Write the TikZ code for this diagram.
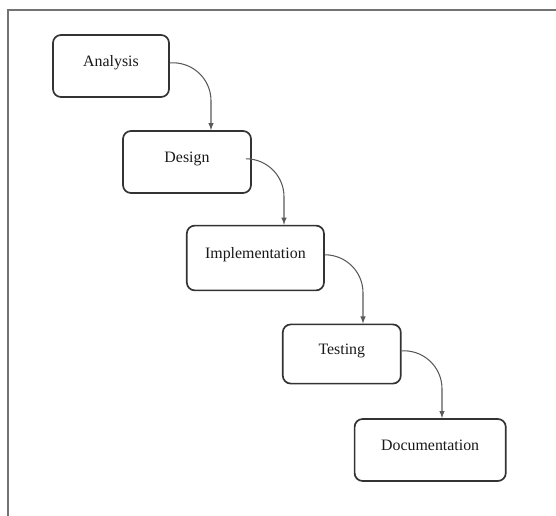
\documentclass[tikz,border=0pt]{standalone}
\usepackage{fontspec}
\setmainfont{Liberation Serif}
\usetikzlibrary{arrows}
\usetikzlibrary{calc}

\tikzset{
  stage/.style={draw=black!80, line width=1.2pt, rounded corners=2mm, rectangle,
    minimum height=1.55cm, text height=1.5ex, text depth=1.4ex,
    font=\fontsize{11.3}{13}\selectfont, text=black!90},
  flow/.style={>=latex, ->, draw=black!65, line width=0.75pt, rounded corners=0.95cm}
}

\begin{document}
\begin{tikzpicture}[node distance=2.4cm]
        \useasboundingbox (0,0) rectangle (13.9,-12.9);
        \draw[black!55, line width=1.4pt] (0.19,-12.9) |- (13.9,-0.24);
        \node[stage, minimum width=2.9cm] (A) at (2.775,-1.65) {Analysis};
        \node[stage, minimum width=3.2cm, below of=A, xshift=1.9cm] (D) {Design};
        \node[stage, minimum width=3.43cm, minimum height=1.62cm, below of=D, xshift=1.71cm] (I) {Implementation};
        \node[stage, minimum width=2.95cm, minimum height=1.48cm, below of=I, xshift=2.16cm] (T) {Testing};
        \node[stage, minimum width=3.78cm, below of=T, xshift=2.21cm] (O) {Documentation};
        \draw[flow] ([yshift=0.8mm]A.east) -| ([xshift=0.6cm]D.north);
        \draw[flow] ([yshift=0.8mm]D.east) -| ([xshift=0.715cm]I.north);
        \draw[flow] ([yshift=0.8mm]I.east) -| ([xshift=0.53cm]T.north);
        \draw[flow] ([yshift=0.8mm]T.east) -| ([xshift=0.295cm]O.north);
    \end{tikzpicture}
\end{document}
